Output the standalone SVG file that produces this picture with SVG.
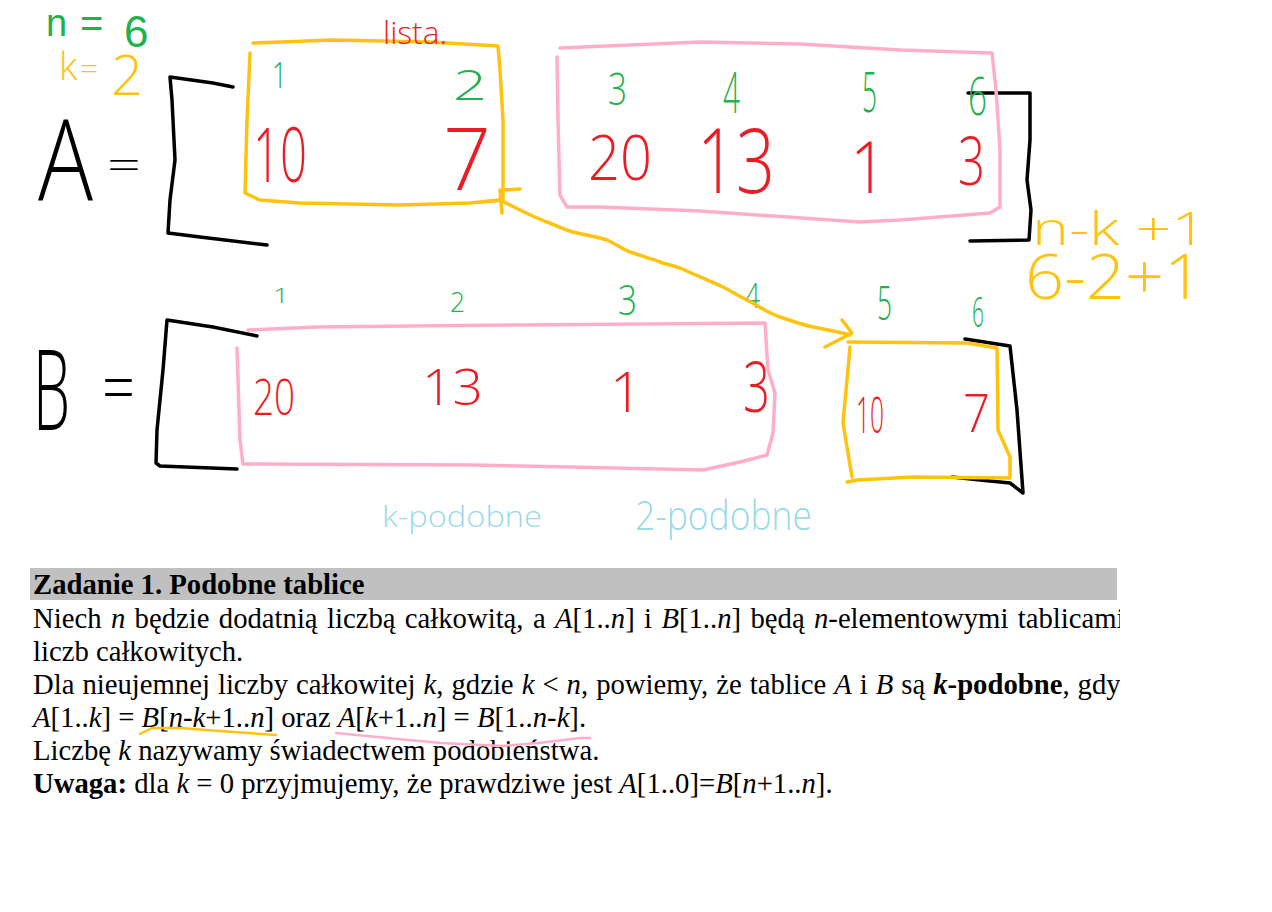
<svg xmlns="http://www.w3.org/2000/svg" width="1272" height="912" viewBox="0 0 1272 912">
<style>
.hw{font-family:'Open Sans','Liberation Sans',sans-serif;font-weight:300}
.hl{font-family:'Liberation Sans',Arial,sans-serif;font-weight:normal}
.g{fill:#22b14c}.r{fill:#ed1c24}.y{fill:#ffc20e}.k{fill:#000}.b{fill:#99d9ea}
.s{fill:none;stroke-width:3.5;stroke-linecap:round;stroke-linejoin:round}
.sk{stroke:#000}.sy{stroke:#ffc20e}.sp{stroke:#ffaec9}
.tx{font-family:'Liberation Serif','Times New Roman',serif;font-size:28.7px;fill:#000}
.i{font-style:italic}.bd{font-weight:bold}
</style>
<defs>
<clipPath id="clipText"><rect x="0" y="560" width="1120" height="300"/></clipPath>
</defs>
<rect width="1272" height="912" fill="#fff"/>

<g id="params">
<text class="hl g"><tspan x="46" y="36" font-size="38">n</tspan> <tspan x="80" y="36.5" font-size="40">=</tspan> <tspan x="124" y="47" font-size="44">6</tspan></text>
<text class="hw y"><tspan x="59" y="80" font-size="38">k</tspan> <tspan x="80" y="79" font-size="32">=</tspan> <tspan x="111" y="95" font-size="56">2</tspan></text>
</g>

<g id="array-A">
<text class="hw k" x="38" y="200" font-size="112" textLength="55" lengthAdjust="spacingAndGlyphs">A</text>
<text class="hw k" x="107" y="180" font-size="43" textLength="34" lengthAdjust="spacingAndGlyphs">=</text>
<path class="s sk" d="M233,87 L213,83 L170,77 L172,100 L175,160 L170,200 L168,233 L200,237 L267,245"/>
<path class="s sk" d="M968,93 L1030,93 L1030,140 L1027,180 L1031,210 L1029,240 L970,241"/>
</g>

<g id="A-part1">
<path class="s sy" d="M253,43 L333,40 L430,42 L498,46 L500,70 L503,120 L503,200 L470,203 L400,205 L300,203 L260,200 L245,193 L247,120 L250,53"/>
<text class="hw r" x="383" y="44" font-size="32" textLength="64" lengthAdjust="spacingAndGlyphs">lista.</text>
<text class="hw g" x="272" y="88" font-size="36" textLength="15" lengthAdjust="spacingAndGlyphs">1</text>
<text class="hw g" x="453" y="100" font-size="42" textLength="34" lengthAdjust="spacingAndGlyphs">2</text>
<text class="hw r" x="253" y="182" font-size="76" textLength="54" lengthAdjust="spacingAndGlyphs">10</text>
<text class="hw r" x="443" y="190" font-size="86" textLength="48" lengthAdjust="spacingAndGlyphs">7</text>
</g>

<g id="A-part2">
<path class="s sp" d="M560,48 L700,42 L800,44 L900,50 L992,53 L996,90 L1000,150 L1000,207 L990,213 L900,220 L860,222 L700,211 L600,207 L567,207 L560,195 L558,120 L557,57"/>
<text class="hw g" x="608" y="105" font-size="45" textLength="19" lengthAdjust="spacingAndGlyphs">3</text>
<text class="hw g" x="723" y="113" font-size="57" textLength="17" lengthAdjust="spacingAndGlyphs">4</text>
<text class="hw g" x="862" y="112" font-size="55" textLength="15" lengthAdjust="spacingAndGlyphs">5</text>
<text class="hw g" x="968" y="115" font-size="53" textLength="19" lengthAdjust="spacingAndGlyphs">6</text>
<text class="hw r" x="588" y="180" font-size="63" textLength="64" lengthAdjust="spacingAndGlyphs">20</text>
<text class="hw r" x="697" y="193" font-size="91" textLength="78" lengthAdjust="spacingAndGlyphs">13</text>
<text class="hw r" x="850" y="193" font-size="71" textLength="37" lengthAdjust="spacingAndGlyphs">1</text>
<text class="hw r" x="958" y="185" font-size="66" textLength="27" lengthAdjust="spacingAndGlyphs">3</text>
</g>

<g id="formula">
<text class="hw y" x="1032" y="245" font-size="46" textLength="175" lengthAdjust="spacingAndGlyphs">n-k +1</text>
<text class="hw y" x="1025" y="299" font-size="62" textLength="178" lengthAdjust="spacingAndGlyphs">6-2+1</text>
</g>

<g id="array-B">
<text class="hw k" x="33" y="430" font-size="112" textLength="37" lengthAdjust="spacingAndGlyphs">B</text>
<text class="hw k" x="102" y="412" font-size="70" textLength="33" lengthAdjust="spacingAndGlyphs">=</text>
<path class="s sk" d="M257,336 L213,327 L167,320 L163,370 L157,430 L156,463 L160,466 L237,469"/>
<path class="s sk" d="M965,339 L1010,346 L1017,410 L1023,493 L1010,483 L980,480 L952,477"/>
</g>

<g id="B-part1">
<path class="s sp" d="M248,330 L317,327 L520,325 L765,323 L768,370 L775,393 L773,433 L767,455 L740,462 L703,470 L570,467 L470,465 L243,464 L240,440 L237,348"/>
<text class="hw g" x="273" y="303" font-size="20" textLength="16" lengthAdjust="spacingAndGlyphs">1</text>
<text class="hw g" x="450" y="312" font-size="28" textLength="15" lengthAdjust="spacingAndGlyphs">2</text>
<text class="hw g" x="618" y="315" font-size="42" textLength="19" lengthAdjust="spacingAndGlyphs">3</text>
<text class="hw g" x="745" y="308" font-size="35" textLength="15" lengthAdjust="spacingAndGlyphs">4</text>
<text class="hw r" x="253" y="415" font-size="49" textLength="42" lengthAdjust="spacingAndGlyphs">20</text>
<text class="hw r" x="422" y="405" font-size="49" textLength="61" lengthAdjust="spacingAndGlyphs">13</text>
<text class="hw r" x="610" y="412" font-size="55" textLength="32" lengthAdjust="spacingAndGlyphs">1</text>
<text class="hw r" x="743" y="412" font-size="70" textLength="27" lengthAdjust="spacingAndGlyphs">3</text>
</g>

<g id="B-part2">
<path class="s sy" d="M848,342 L967,343 L997,348 L998,430 L1010,457 L1010,478 L913,477 L857,480 L847,482"/>
<path class="s sy" d="M850,347 L843,423 L852,477"/>
<text class="hw g" x="877" y="320" font-size="48" textLength="15" lengthAdjust="spacingAndGlyphs">5</text>
<text class="hw g" x="972" y="327" font-size="42" textLength="12" lengthAdjust="spacingAndGlyphs">6</text>
<text class="hw r" x="856" y="433" font-size="49" textLength="28" lengthAdjust="spacingAndGlyphs">10</text>
<text class="hw r" x="963" y="432" font-size="53" textLength="27" lengthAdjust="spacingAndGlyphs">7</text>
</g>

<g id="notes">
<text class="hw b" x="382" y="527" font-size="30" textLength="160" lengthAdjust="spacingAndGlyphs">k-podobne</text>
<text class="hw b" x="635" y="530" font-size="40" textLength="177" lengthAdjust="spacingAndGlyphs">2-podobne</text>
</g>

<g id="connectors">
<path class="s sy" d="M480,202 L500,200 M502,190 L520,189 M500,190 L502,213"/>
<path class="s sy" d="M500,200 C520,210 535,218 547,222 C560,227 565,230 573,232 C590,236 598,237 607,240 C618,245 622,249 630,252 C645,257 652,259 660,262 C668,265 672,265 680,268 C700,277 710,281 723,287 C733,292 740,297 747,300 C760,307 768,313 780,317 C792,321 803,325 813,327 C828,330 840,332 850,335"/>
<path class="s sy" d="M842,320 L852,333 L825,347"/>
</g>

<g id="task-text" clip-path="url(#clipText)">
<rect x="30" y="568" width="1087" height="32" fill="#c0c0c0"/>
<text class="tx bd" x="33" y="594">Zadanie 1. Podobne tablice</text>
<text class="tx" x="33" y="628" word-spacing="2.2">Niech <tspan class="i">n</tspan> będzie dodatnią liczbą całkowitą, a <tspan class="i">A</tspan>[1..<tspan class="i">n</tspan>] i <tspan class="i">B</tspan>[1..<tspan class="i">n</tspan>] będą <tspan class="i">n</tspan>-elementowymi tablicami</text>
<text class="tx" x="33" y="661">liczb całkowitych.</text>
<text class="tx" x="33" y="694" word-spacing="0.85">Dla nieujemnej liczby całkowitej <tspan class="i">k</tspan>, gdzie <tspan class="i">k</tspan> &lt; <tspan class="i">n</tspan>, powiemy, że tablice <tspan class="i">A</tspan> i <tspan class="i">B</tspan> są <tspan class="bd"><tspan class="i">k</tspan>-podobne</tspan>, gdy</text>
<text class="tx" x="33" y="727"><tspan class="i">A</tspan>[1..<tspan class="i">k</tspan>] = <tspan class="i">B</tspan>[<tspan class="i">n</tspan>-<tspan class="i">k</tspan>+1..<tspan class="i">n</tspan>] oraz <tspan class="i">A</tspan>[<tspan class="i">k</tspan>+1..<tspan class="i">n</tspan>] = <tspan class="i">B</tspan>[1..<tspan class="i">n</tspan>-<tspan class="i">k</tspan>].</text>
<text class="tx" x="33" y="760">Liczbę <tspan class="i">k</tspan> nazywamy świadectwem podobieństwa.</text>
<text class="tx" x="33" y="793"><tspan class="bd">Uwaga:</tspan> dla <tspan class="i">k</tspan> = 0 przyjmujemy, że prawdziwe jest <tspan class="i">A</tspan>[1..0]=<tspan class="i">B</tspan>[<tspan class="i">n</tspan>+1..<tspan class="i">n</tspan>].</text>
<path class="s sy" style="stroke-width:2.5" d="M140,734 L152,728 L181,728 L206,730 L234,732 L276,735"/>
<path class="s sp" style="stroke-width:2.5" d="M336,733 L377,737 L441,743 L502,746 L538,743 L580,738 L590,738"/>
</g>
</svg>
